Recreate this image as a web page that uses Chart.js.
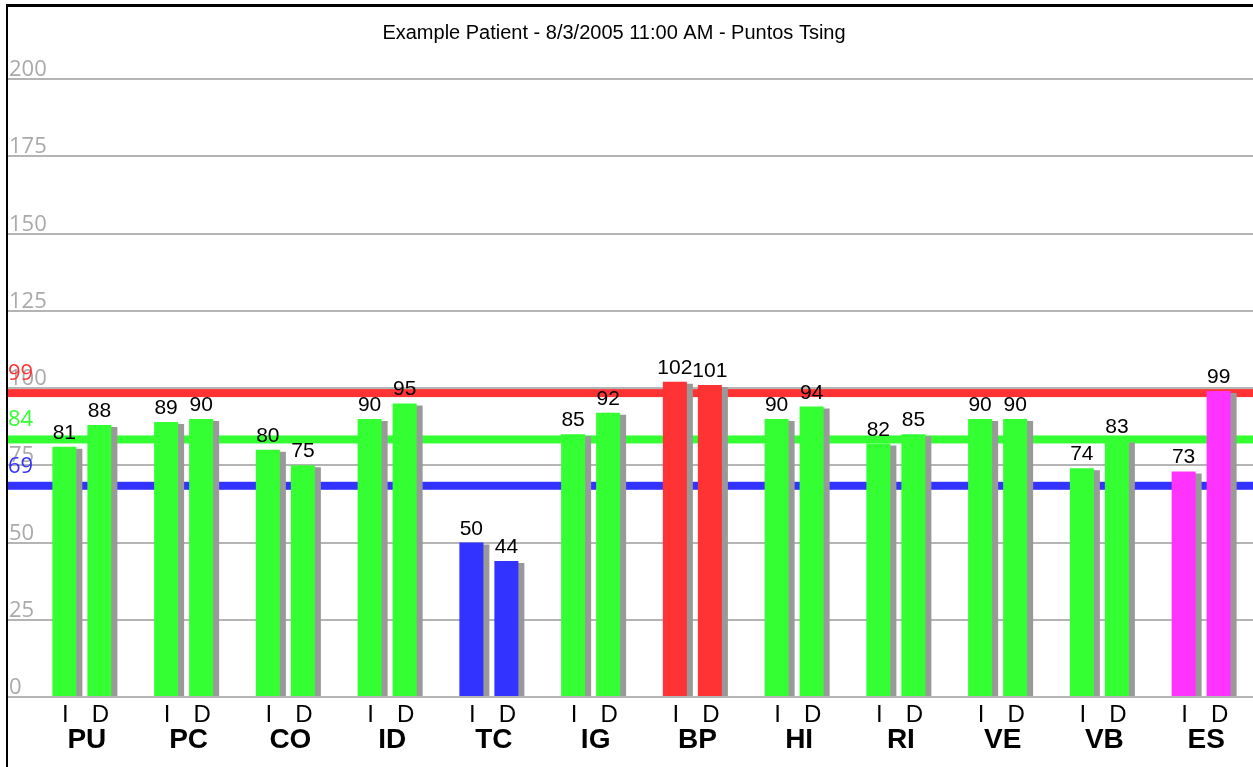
<!DOCTYPE html>
<html>
<head>
<meta charset="utf-8">
<script src="https://cdn.jsdelivr.net/npm/chart.js@4.4.1/dist/chart.umd.min.js"></script>
<style>
  html, body { margin: 0; padding: 0; background: #fff; overflow: hidden; }
  #wrap { position: absolute; left: 0; top: 0; width: 1253px; height: 767px; }
</style>
</head>
<body>
<div id="wrap"><canvas id="puntosChart"></canvas></div>
<script>
const chartTitle = 'Example Patient - 8/3/2005 11:00 AM - Puntos Tsing';
const categories = ['PU', 'PC', 'CO', 'ID', 'TC', 'IG', 'BP', 'HI', 'RI', 'VE', 'VB', 'ES'];
const seriesLabels = ['I', 'D'];
const valuesI = [81, 89, 80, 90, 50, 85, 102, 90, 82, 90, 74, 73];
const valuesD = [88, 90, 75, 95, 44, 92, 101, 94, 85, 90, 83, 99];
const categoryColors = ['#33ff33', '#33ff33', '#33ff33', '#33ff33', '#3333ff', '#33ff33',
                        '#ff3333', '#33ff33', '#33ff33', '#33ff33', '#33ff33', '#ff33ff'];
const yTicks = [0, 25, 50, 75, 100, 125, 150, 175, 200];
const refValues = [99, 84, 69];
const refColors = ['#ff3333', '#33ff33', '#3333ff'];

// grid, reference lines, shadows, labels
const decorPlugin = {
    id: 'decor',
    beforeDatasetsDraw(chart) {
        const ctx = chart.ctx;
        const y = chart.scales.y;
        const area = chart.chartArea;
        ctx.save();
        // frame
        ctx.fillStyle = '#000';
        ctx.fillRect(6, 4, 1253, 3);
        ctx.fillRect(6, 4, 2, 767);
        // grid lines
        ctx.strokeStyle = '#b4b4b4';
        ctx.lineWidth = 2;
        yTicks.forEach(v => {
            const py = Math.round(y.getPixelForValue(v));
            ctx.beginPath();
            ctx.moveTo(8, py);
            ctx.lineTo(area.right + 1, py);
            ctx.stroke();
        });
        // tick labels
        ctx.font = '22px "Open Sans"';
        ctx.fillStyle = '#aaaaaa';
        ctx.textAlign = 'left';
        ctx.textBaseline = 'alphabetic';
        yTicks.forEach(v => {
            ctx.fillText(String(v), 9, y.getPixelForValue(v) - 3);
        });
        // reference lines
        refValues.forEach((v, i) => {
            const py = y.getPixelForValue(v) + 2;
            ctx.fillStyle = refColors[i];
            ctx.fillRect(8, py - 4, area.right - 7, 8);
            ctx.fillText(String(v), 8, py - 13);
        });
        ctx.restore();
    },
    beforeDatasetDraw(chart) {
        const ctx = chart.ctx;
        ctx.save();
        ctx.shadowColor = '#999999';
        ctx.shadowOffsetX = 6;
        ctx.shadowOffsetY = 2;
        ctx.shadowBlur = 0;
    },
    afterDatasetDraw(chart) {
        chart.ctx.restore();
    },
    afterDatasetsDraw(chart) {
        const ctx = chart.ctx;
        const y = chart.scales.y;
        const area = chart.chartArea;
        ctx.save();
        // baseline
        ctx.strokeStyle = '#b4b4b4';
        ctx.lineWidth = 2;
        const by = Math.round(y.getPixelForValue(0));
        ctx.beginPath();
        ctx.moveTo(8, by);
        ctx.lineTo(area.right + 1, by);
        ctx.stroke();
        chart.data.datasets.forEach((ds, di) => {
            const meta = chart.getDatasetMeta(di);
            meta.data.forEach((bar, i) => {
                ctx.fillStyle = '#000';
                ctx.textAlign = 'center';
                ctx.font = '21px "Liberation Sans"';
                ctx.fillText(String(ds.data[i]), bar.x, bar.y - 8);
                ctx.font = '24px "Liberation Sans"';
                ctx.fillText(ds.label, bar.x + 1, 722);
            });
        });
        // title
        ctx.font = '20px "Liberation Sans"';
        ctx.textAlign = 'center';
        ctx.fillText(chartTitle, 614, 39);
        ctx.restore();
    }
};

new Chart(document.getElementById('puntosChart').getContext('2d'), {
    type: 'bar',
    data: {
        labels: categories,
        datasets: [
            { label: seriesLabels[0], data: valuesI, backgroundColor: categoryColors },
            { label: seriesLabels[1], data: valuesD, backgroundColor: categoryColors }
        ]
    },
    options: {
        responsive: true,
        maintainAspectRatio: false,
        animation: false,
        categoryPercentage: 0.688,
        barPercentage: 0.686,
        layout: { padding: { left: 31, right: 1, top: 79, bottom: 0 } },
        plugins: {
            legend: { display: false },
            title: { display: false },
            tooltip: { enabled: false }
        },
        scales: {
            x: {
                grid: { display: false, drawTicks: false },
                border: { display: false },
                ticks: {
                    color: '#000',
                    font: { family: 'Liberation Sans', size: 28, weight: 'bold' },
                    padding: 26,
                    labelOffset: 5,
                    maxRotation: 0,
                    autoSkip: false
                },
                afterFit(scale) { scale.height = 70; }
            },
            y: {
                display: false,
                min: 0,
                max: 200
            }
        }
    },
    plugins: [decorPlugin]
});
</script>
</body>
</html>
